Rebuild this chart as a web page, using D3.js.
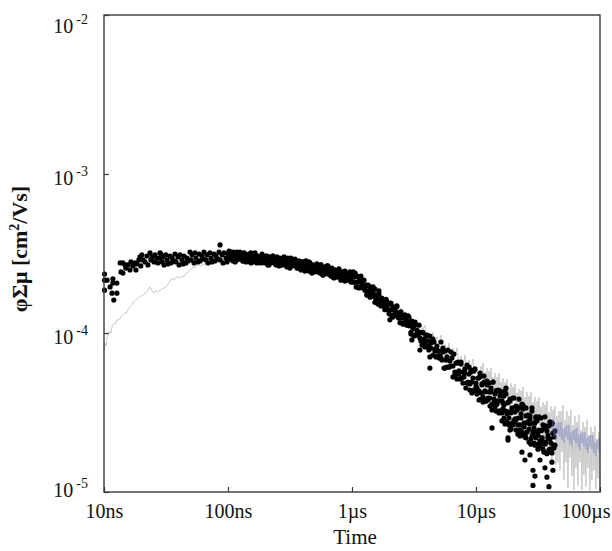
<!DOCTYPE html>
<html>
<head>
<meta charset="utf-8">
<script src="https://cdn.jsdelivr.net/npm/d3@7"></script>
<style>
  body { margin: 0; background: #fff; }
  text { font-family: "Liberation Serif", "Times New Roman", serif; }
</style>
</head>
<body>
<svg id="chart" width="612" height="551"></svg>
<script>
// Axis ticks
var xTickValues = [1e-8, 1e-7, 1e-6, 1e-5, 1e-4];
var xTickLabels = ["10ns", "100ns", "1µs", "10µs", "100µs"];
var yTickValues = [1e-5, 1e-4, 1e-3, 1e-2];
var yTickExponents = ["-5", "-4", "-3", "-2"];

// Measured points: [time in ns, phi*sum(mu) in 1e-4 cm2/Vs]
var dots = [
  [10.1,2.35],[10.1,2.15],[10.1,1.86],[10.6,2.15],[11.2,1.95],[11.6,1.78],[11.8,2.19],[11.8,2.06],[12.0,1.61],[12.7,2.06],[12.7,1.78],
  [13.5,2.76],[13.7,2.42],[14.2,2.76],[14.2,2.38],[14.8,2.68],[15.0,2.56],[15.6,2.68],[16.2,2.49],[16.5,2.80],[17.1,2.64],[17.8,2.76],[18.1,2.49],[18.4,2.72],[19.1,2.88],[19.5,3.01],[19.8,2.64],[20.2,3.10],[20.6,2.88],[21.4,2.80],[22.2,3.05],[22.6,2.68],[23.5,3.19],[23.9,2.88],[24.4,3.01],[25.3,2.80],[25.8,3.10],[26.7,2.96],[27.2,2.76],[28.3,2.96],[28.3,3.19],
  [28.8,3.14],[29.4,2.80],[29.9,3.01],[30.5,2.68],[31.6,3.10],[32.2,2.88],[32.8,2.72],[34.1,3.05],[34.7,2.76],[35.4,2.96],[36.7,2.84],[37.4,3.14],[38.1,2.80],[39.5,3.01],[40.3,2.68],[41.0,3.10],[42.6,2.88],[43.4,2.72],[44.2,3.05],[45.8,2.76],[46.7,2.96],[47.6,2.84],[49.4,3.23],[50.3,2.88],[51.3,3.10],[53.2,2.76],[54.2,3.19],[55.2,2.96],[57.3,2.80],[58.4,3.14],[59.5,2.84],[61.7,3.05],[62.9,2.92],[64.0,3.23],[66.5,2.88],[67.7,3.10],[69.0,2.76],[71.6,3.19],[72.9,2.96],[74.3,2.80],[77.1,3.14],[78.5,2.84],[80.0,3.05],[83.1,2.92],[84.6,3.23],[86.3,3.58],[86.3,2.88],[89.5,3.10],[91.2,2.76],[92.9,3.19],[96.4,2.96],[98.2,2.80],[100,3.14],
  [102,3.28],[104,2.96],[106,3.14],[108,2.88],[110,3.23],[112,3.05],[114,2.80],[116,3.14],[118,2.88],[120,3.05],[123,2.96],[125,3.23],[127,2.92],[130,3.10],[132,2.84],[135,3.19],[137,3.01],[140,2.80],[142,3.10],[145,2.84],[148,3.01],[150,2.92],[153,3.19],[156,2.88],[159,3.05],[162,2.80],[165,3.14],[168,2.96],[171,2.76],[174,3.05],[178,2.80],[181,2.96],[184,2.88],[188,3.14],[191,2.84],[195,3.01],[199,2.76],[202,3.05],[206,2.88],[210,2.68],[214,3.01],[218,2.76],[222,2.92],[226,2.84],[230,3.05],[235,2.76],[239,2.92],[244,2.68],[248,3.01],[253,2.84],[258,2.64],[262,2.96],[267,2.68],[272,2.84],[277,2.76],[283,3.01],[288,2.72],[293,2.88],[299,2.64],[304,2.96],[310,2.76],[316,2.56],[322,2.88],[328,2.64],[334,2.80],[340,2.72],[347,2.92],[353,2.64],[360,2.80],[367,2.56],[373,2.84],[380,2.68],[388,2.49],[395,2.80],[402,2.53],[410,2.68],[417,2.60],[425,2.84],[433,2.56],[441,2.68],[450,2.45],[458,2.76],[467,2.60],[475,2.38],[484,2.68],[493,2.45],[502,2.60],[512,2.53],[521,2.72],[531,2.45],[541,2.60],[551,2.38],[562,2.68],[572,2.49],[583,2.32],[594,2.60],[605,2.35],[616,2.49],[628,2.42],[639,2.64],[651,2.35],[664,2.49],[676,2.28],[689,2.56],[702,2.38],[715,2.22],[728,2.49],[742,2.25],[756,2.38],[770,2.32],[784,2.53],[799,2.25],[814,2.38],[829,2.19],[845,2.42],[860,2.28],[877,2.12],[893,2.38],[910,2.15],[927,2.28],[944,2.22],[962,2.42],[980,2.15],[1000,2.28],
  [102,2.92],[106,3.23],[110,2.84],[114,3.05],[118,3.23],[123,2.92],[127,3.01],[132,2.84],[137,3.14],[142,2.84],[148,3.14],[153,2.76],[159,3.01],[165,3.19],[171,2.88],[178,2.92],[184,2.76],[191,3.05],[199,2.80],[206,3.05],[214,2.68],[222,2.92],[230,3.05],[239,2.76],[248,2.84],[258,2.68],[267,2.92],[277,2.68],[288,2.96],[299,2.60],[310,2.80],[322,2.96],[334,2.68],[347,2.72],[360,2.56],[373,2.80],[388,2.56],[402,2.80],[417,2.45],[433,2.68],[450,2.80],[467,2.53],[484,2.56],[502,2.42],[521,2.64],[541,2.42],[562,2.68],[583,2.32],[605,2.49],[628,2.64],[651,2.35],[676,2.42],[702,2.25],[728,2.49],[756,2.25],[784,2.49],[814,2.15],[845,2.32],[877,2.45],[910,2.19],[944,2.25],[980,2.09],
  [1020,2.42],[1040,2.09],[1060,2.25],[1080,1.95],[1100,2.28],[1120,2.09],[1140,1.92],[1160,2.19],[1180,1.95],[1200,2.06],[1230,1.95],[1250,2.15],[1270,1.86],[1300,2.00],[1320,1.73],[1350,2.00],[1370,1.84],[1400,1.68],[1420,1.92],[1450,1.71],[1480,1.81],[1500,1.71],[1530,1.89],[1560,1.63],[1590,1.73],[1620,1.52],[1650,1.76],[1680,1.61],[1710,1.48],[1740,1.66],[1780,1.48],[1810,1.56],[1840,1.48],[1880,1.63],[1910,1.44],[1950,1.52],[1990,1.32],[2020,1.52],[2060,1.40],[2100,1.28],[2140,1.46],[2180,1.30],[2220,1.38],[2260,1.30],[2300,1.46],[2350,1.26],[2390,1.34],[2440,1.16],[2480,1.36],[2530,1.24],[2580,1.14],[2620,1.28],[2670,1.16],[2720,1.22],[2770,1.16],[2830,1.28],[2880,1.11],[2930,1.17],[2990,0.986],[3040,1.19],[3100,1.07],[3160,0.957],[3220,1.12],[3280,0.971],[3340,1.04],[3400,0.971],[3470,1.12],[3530,0.930],[3600,1.01],[3670,0.840],[3730,1.01],[3800,0.917],[3880,0.817],[3950,0.957],[4020,0.828],[4100,0.891],[4170,0.828],[4250,0.957],[4330,0.805],[4410,0.878],[4500,0.727],[4580,0.878],[4670,0.793],[4750,0.707],[4840,0.828],[4930,0.717],[5030,0.770],[5120,0.717],
  [1020,2.09],[1060,2.38],[1100,1.95],[1140,2.12],[1180,2.28],[1230,1.92],[1270,1.95],[1320,1.76],[1370,1.97],[1420,1.73],[1480,1.95],[1530,1.56],[1590,1.71],[1650,1.84],[1710,1.54],[1780,1.56],[1840,1.40],[1910,1.59],[1990,1.38],[2060,1.54],[2140,1.26],[2220,1.38],[2300,1.48],[2390,1.24],[2480,1.28],[2580,1.14],[2670,1.30],[2770,1.12],[2880,1.26],[2990,1.01],[3100,1.11],[3220,1.17],[3340,0.986],[3470,1.00],[3600,0.891],[3730,1.00],[3880,0.865],[4020,0.971],[4170,0.782],[4330,0.865],[4500,0.917],[4670,0.770],[4840,0.782],[5030,0.697],
  [2020,1.21],[3040,0.904],[3530,0.782],[4250,0.707],[4250,0.602],
  [5220,0.878],[5310,0.676],[5410,0.759],[5520,0.602],[5620,0.770],[5720,0.676],[5830,0.611],[5940,0.782],[6050,0.611],[6160,0.666],[6280,0.620],[6400,0.697],[6520,0.529],[6640,0.738],[6760,0.568],[6890,0.647],[7020,0.514],[7150,0.657],[7280,0.577],[7420,0.514],[7560,0.657],[7700,0.521],[7850,0.568],[7990,0.529],[8140,0.594],[8290,0.451],[8450,0.629],[8610,0.491],[8770,0.552],[8930,0.438],
  [5220,0.697],[5410,0.805],[5620,0.602],[5830,0.707],[6050,0.611],[6280,0.759],[6520,0.620],[6760,0.544],[7020,0.647],[7280,0.552],[7560,0.638],[7850,0.484],[8140,0.560],[8450,0.484],[8770,0.611],
  [9100,0.568],[9270,0.491],[9450,0.432],[9620,0.577],[9800,0.438],[10000,0.484],[10190,0.451],[10380,0.521],[10570,0.379],[10770,0.560],[10970,0.420],[11180,0.478],[11390,0.368],[11600,0.491],[11820,0.432],[12040,0.374],[12260,0.498],[12490,0.379],[12730,0.426],[12970,0.390],[13210,0.451],[13460,0.328],[13710,0.491],[13970,0.363],[14230,0.413],[14490,0.323],[14770,0.432],[15040,0.374],[15320,0.323],[15610,0.432],
  [8930,0.478],[9100,0.585],[9270,0.420],[9450,0.521],[9620,0.438],[9800,0.594],[10000,0.464],[10190,0.413],[10380,0.521],[10570,0.432],[10770,0.528],[10970,0.384],[11180,0.471],[11390,0.395],[11600,0.536],[11820,0.426],[12040,0.374],[12260,0.471],[12490,0.390],[12730,0.484],[12970,0.347],[13210,0.426],[13460,0.357],[13710,0.491],[13970,0.384],[14230,0.338],[14490,0.432],[14770,0.357],[15040,0.438],[15320,0.314],
  [15900,0.323],[16200,0.374],[16500,0.333],[16810,0.401],[17130,0.268],[17450,0.451],[17780,0.310],[18110,0.363],[18450,0.264],[18790,0.384],[19140,0.314],[19500,0.268],[19870,0.390],[20240,0.276],[20620,0.318],[21000,0.284],[21400,0.343],[21800,0.231],[22210,0.384],[22620,0.264],[23050,0.310],[23480,0.228],[23920,0.333],[24370,0.272],[24820,0.228],[25290,0.338],[25760,0.238],[26240,0.276],[26740,0.249],[27240,0.301],[27750,0.200],[28270,0.338],[28800,0.231],[29330,0.272],[29880,0.197],[30440,0.292],[31010,0.238],[31590,0.200],[32190,0.297],[32790,0.209],[33400,0.242],[34030,0.219],[34670,0.264],[35320,0.178],[35980,0.297],[36650,0.206],[37340,0.242],[38040,0.178],[38750,0.260],[39470,0.216],[40210,0.181],[40970,0.268],[41730,0.189],[42510,0.222],[43310,0.197],
  [15610,0.401],[16200,0.314],[16810,0.352],[17450,0.413],[18110,0.318],[18790,0.268],[19500,0.338],[20240,0.280],[21000,0.347],[21800,0.292],[22620,0.245],[23480,0.357],[24370,0.256],[25290,0.219],[26240,0.272],[27240,0.288],[28270,0.225],[29330,0.253],[30440,0.297],[31590,0.228],[32790,0.194],[34030,0.245],[35320,0.206],[36650,0.260],[38040,0.219],[39470,0.186],[40970,0.272],[42510,0.197],
  [15610,0.323],[15900,0.420],[16200,0.280],[16500,0.363],[16810,0.292],[17130,0.432],[17450,0.323],[17780,0.276],[18110,0.368],[18450,0.292],[18790,0.374],[19140,0.249],[19500,0.328],[19870,0.264],[20240,0.390],[20620,0.288],[21000,0.245],[21400,0.328],[21800,0.264],[22210,0.338],[22620,0.225],[23050,0.292],[23480,0.238],[23920,0.352],[24370,0.260],[24820,0.222],[25290,0.301],[25760,0.238],[26240,0.305],[26740,0.206],[27240,0.268],[27750,0.216],[28270,0.323],[28800,0.238],[29330,0.203],[29880,0.272],[30440,0.219],[31010,0.280],[31590,0.186],[32190,0.245],[32790,0.197],[33400,0.292],[34030,0.219],[34670,0.186],[35320,0.253],[35980,0.200],[36650,0.260],[37340,0.174],[38040,0.228],[38750,0.184],[39470,0.276],[40210,0.203],[40970,0.176],[41730,0.235],[42510,0.189],[43310,0.242],
  [13460,0.253],[18790,0.245],[18110,0.219],[18110,0.212],[23480,0.178],[24820,0.159],[27240,0.171],[28800,0.137],[29880,0.126],[28800,0.110],[32790,0.159],[37340,0.124],[38750,0.108],[41730,0.137],[40970,0.154],[35980,0.142]
];

// Gray trace: [time in ns, value in 1e-4]
var grayTrace = [
  [10.0,0.759],[10.2,0.865],[10.4,0.828],[10.6,0.930],[10.8,0.986],[11.2,1.03],[11.4,1.00],[11.6,1.09],[12.0,1.14],[12.5,1.15],[12.7,1.21],[13.2,1.21],[13.7,1.26],[14.2,1.30],[14.8,1.34],[15.0,1.32],[15.6,1.40],[16.2,1.46],[16.8,1.50],[17.1,1.56],[17.8,1.61],[18.4,1.63],[19.1,1.68],[19.8,1.71],[20.6,1.73],[21.4,1.78],[22.2,1.81],[23.0,1.89],[23.5,1.95],[24.4,1.84],[25.3,1.78],[26.3,1.84],[27.2,1.81],[28.3,1.86],[29.4,1.89],[30.5,1.92],[31.6,1.95],[32.8,2.03],[34.1,2.12],[35.4,2.22],[36.7,2.15],[38.1,2.25],[39.5,2.25],[41.0,2.22],[42.6,2.28],[44.2,2.25],[45.8,2.35],[47.6,2.42],[49.4,2.49],[51.3,2.56],[54.2,2.60],[57.3,2.68],[59.5,2.64],[65.3,2.72],[71.6,2.80],[78.5,2.84],[86.3,2.88],[104,2.92],[125,2.96],[150,2.96],[181,2.92],[218,2.88],[262,2.84],[316,2.76],[380,2.72],[458,2.60],[551,2.49],[664,2.42],[799,2.32],[962,2.19],
  [1057,2.00],[1097,2.12],[1139,2.00],[1182,2.09],[1226,1.92],[1273,1.97],[1321,1.84],[1371,1.95],[1422,1.76],[1476,1.86],[1532,1.76],[1590,1.84],[1650,1.66],[1712,1.71],[1777,1.59],[1844,1.68],[1914,1.52],[1986,1.59],[2061,1.48],[2139,1.54],[2220,1.42],[2304,1.44],[2391,1.34],[2482,1.44],[2576,1.24],[2673,1.36],[2774,1.24],[2879,1.34],[2988,1.15],[3101,1.22],[3218,1.09],[3340,1.21],[3466,1.04],[3597,1.14],[3734,1.04],[3875,1.12],[4022,0.971],[4174,1.01],[4332,0.917],[4496,1.01],[4666,0.865],[4842,0.944],[5026,0.865],[5216,0.971],[5413,0.782],[5618,0.852],[5830,0.727],[6050,0.865],[6279,0.686],[6517,0.805],[6763,0.707],[7019,0.805],[7284,0.647],[7559,0.717],[7845,0.611],[8142,0.727],[8450,0.577],[8769,0.676],[9101,0.594],[9445,0.686],[9802,0.552],[10187,0.611],[10572,0.521],
  [10770,0.484],[10970,0.620],[11180,0.521],[11390,0.647],[11600,0.491],[11820,0.568],[12040,0.464],[12260,0.602],[12490,0.451],[12730,0.577],[12970,0.484],[13210,0.602],[13460,0.451],[13710,0.528],[13970,0.432],[14230,0.560],[14490,0.420],[14770,0.528],[15040,0.451],[15320,0.560],[15610,0.420],[15900,0.491],[16200,0.401],[16500,0.521],[16810,0.384],[17130,0.491],[17450,0.420],[17780,0.514],[18110,0.390],[18450,0.451],[18790,0.374],[19140,0.484],[19500,0.357],[19870,0.457],[20240,0.384],[20620,0.478],[21000,0.363],[21400,0.420],[21800,0.343],[22210,0.444],
  [22620,0.284],[23050,0.432],[23480,0.338],[23920,0.457],[24370,0.301],[24820,0.395],[25290,0.276],[25760,0.426],[26240,0.264],[26740,0.401],[27240,0.314],[27750,0.426],[28270,0.280],[28800,0.368],[29330,0.256],[29880,0.395],[30440,0.245],[31010,0.374],[31590,0.292],[32190,0.395],[32790,0.260],[33400,0.343],[34030,0.242],[34670,0.368],[35320,0.184],[35980,0.352],[36650,0.272],[37340,0.374],[38040,0.192],[38750,0.318],[39470,0.171],[40210,0.347],[40970,0.159],[41730,0.328],[42510,0.256],[43310,0.347],[44120,0.148],[44950,0.301],[45790,0.154],[46650,0.323],
  [47520,0.137],[48410,0.323],[49320,0.178],[50250,0.352],[51190,0.119],[52150,0.284],[53120,0.154],[54120,0.323],[55130,0.106],[56170,0.301],[57220,0.164],[58290,0.328],[59380,0.126],[60500,0.264],[61630,0.103],[62780,0.301],[63960,0.142],[65160,0.276],[66380,0.110],[67620,0.305],[68890,0.154],[70180,0.245],[71500,0.103],[72840,0.276],[74200,0.128],[75590,0.256],[77010,0.108],[78450,0.284],[79920,0.142],[81420,0.228],[82940,0.102],[84500,0.256],[86080,0.119],[87690,0.238],[89330,0.137],[91010,0.260],[92710,0.105],[94450,0.212],[96220,0.122],[98020,0.238],[99900,0.110]
];

// Blue trace at late times: [time in ns, value in 1e-4]
var blueTrace = [
  [40970,0.235],[41730,0.288],[42510,0.222],[43310,0.260],[44120,0.212],[44950,0.272],[45790,0.231],[46650,0.276],[47520,0.222],[48410,0.276],[49320,0.212],[50250,0.249],[51190,0.203],[52150,0.256],[53120,0.222],[54120,0.264],[55130,0.212],[56170,0.264],[57220,0.200],[58290,0.238],[59380,0.194],[60500,0.245],[61630,0.212],[62780,0.249],[63960,0.203],[65160,0.253],[66380,0.192],[67620,0.228],[68890,0.184],[70180,0.235],[71500,0.203],[72840,0.238],[74200,0.194],[75590,0.238],[77010,0.184],[78450,0.219],[79920,0.176],[81420,0.225],[82940,0.192],[84500,0.228],[86080,0.186],[87690,0.228],[89330,0.176],[91010,0.206],[92710,0.168],[94450,0.216],[96220,0.184],[98020,0.219],[99900,0.176]
];

// Layout
var plot = { left: 104, top: 15, right: 600, bottom: 492 };

var svg = d3.select("#chart");

var x = d3.scaleLog().domain([1e-8, 1e-4]).range([plot.left, plot.right]);
var y = d3.scaleLog().domain([1e-5, 1e-2]).range([plot.bottom, plot.top]);

function px(d) { return x(d[0] * 1e-9); }
function py(d) { return y(d[1] * 1e-4); }

var line = d3.line().x(px).y(py);

// Gray trace under the dots
svg.append("path")
  .datum(grayTrace)
  .attr("d", line)
  .style("fill", "none")
  .style("stroke", "#bdbdbd")
  .style("stroke-width", 0.8);

// Dots
svg.append("g")
  .selectAll("circle")
  .data(dots)
  .enter().append("circle")
    .attr("cx", px)
    .attr("cy", py)
    .attr("r", 2.6)
    .style("fill", "#000");

// Blue trace
svg.append("path")
  .datum(blueTrace)
  .attr("d", line)
  .style("fill", "none")
  .style("stroke", "#6f78c0")
  .style("stroke-width", 0.5)
  .style("opacity", 0.8);

// X axis (inward ticks)
var xAxis = svg.append("g")
  .attr("transform", "translate(0," + plot.bottom + ")")
  .call(d3.axisBottom(x)
    .tickValues(xTickValues)
    .tickFormat(function(d, i) { return xTickLabels[i]; })
    .tickSize(-5)
    .tickPadding(12));

xAxis.select(".domain").remove();
xAxis.selectAll("line").style("stroke", "#3a3a3a").style("stroke-width", 1.2);
xAxis.selectAll("text")
  .style("font-size", "20px")
  .style("fill", "#111")
  .each(function(d) {
    // keep the last label inside the page
    var w = this.getComputedTextLength();
    var xp = x(d);
    if (xp + w / 2 > 610) d3.select(this).attr("x", 610 - xp - w / 2);
  });

// Y axis (inward ticks, custom labels)
var yAxis = svg.append("g")
  .attr("transform", "translate(" + plot.left + ",0)")
  .call(d3.axisLeft(y)
    .tickValues(yTickValues)
    .tickFormat("")
    .tickSize(-5));

yAxis.select(".domain").remove();
yAxis.selectAll("line").style("stroke", "#3a3a3a").style("stroke-width", 1.2);

var yLabels = svg.append("g");
yTickValues.forEach(function(v, i) {
  // labels are kept inside the frame height, like the original
  var base = Math.min(Math.max(y(v) + 11, 33), 497);
  var t = yLabels.append("text")
    .attr("x", 88)
    .attr("y", base)
    .style("text-anchor", "end")
    .style("fill", "#111");
  t.append("tspan").style("font-size", "20px").text("10");
  t.append("tspan")
    .attr("dx", 3)
    .attr("dy", -9)
    .style("font-size", "14px")
    .text(yTickExponents[i]);
});

// Frame
svg.append("rect")
  .attr("x", plot.left)
  .attr("y", plot.top)
  .attr("width", plot.right - plot.left)
  .attr("height", plot.bottom - plot.top)
  .style("fill", "none")
  .style("stroke", "#3a3a3a")
  .style("stroke-width", 1.4);

// Titles
svg.append("text")
  .attr("x", 355)
  .attr("y", 544)
  .style("text-anchor", "middle")
  .style("font-size", "21px")
  .style("fill", "#111")
  .text("Time");

var yTitle = svg.append("text")
  .attr("transform", "translate(27,249) rotate(-90)")
  .style("text-anchor", "middle")
  .style("font-size", "22px")
  .style("font-weight", "bold")
  .style("fill", "#111");
yTitle.append("tspan").text("φΣμ [cm");
yTitle.append("tspan").attr("dy", -8).style("font-size", "14px").text("2");
yTitle.append("tspan").attr("dy", 8).text("/Vs]");
</script>
</body>
</html>
